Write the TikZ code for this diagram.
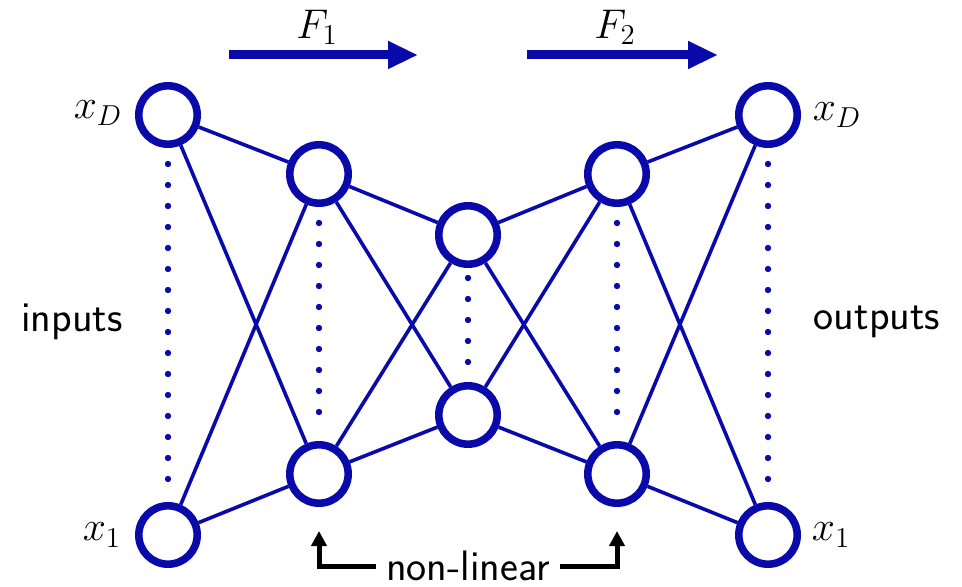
\documentclass[tikz,border=0pt]{standalone}
\usetikzlibrary{arrows.meta,calc}
\definecolor{nnblue}{RGB}{10,10,170}
\begin{document}
\begin{tikzpicture}[x=0.5pt,y=-0.5pt,
  neuron/.style={circle,draw=nnblue,line width=3.8pt,minimum size=29.2pt,inner sep=0pt,fill=white},
  conn/.style={draw=nnblue,line width=1.8pt},
  dotcol/.style={draw=nnblue,line width=3.2pt,line cap=round,dash pattern=on 0pt off 10.5pt,shorten <=8pt,shorten >=8pt},
  flow/.style={draw=nnblue,line width=4.5pt,-{Triangle[length=15pt,width=13pt]}},
  ptr/.style={draw=black,line width=2.5pt,-{Triangle[length=7.5pt,width=7.5pt]}},
  lab/.style={font=\fontsize{21}{25}\selectfont},
  slab/.style={font=\fontsize{21.3}{25}\selectfont\sffamily}]
\useasboundingbox (0,0) rectangle (962,587);
% neurons
\node[neuron] (i1) at (168,115) {};
\node[neuron] (i2) at (168,535) {};
\node[neuron] (a1) at (319,174) {};
\node[neuron] (a2) at (319,474) {};
\node[neuron] (m1) at (468,235) {};
\node[neuron] (m2) at (468,415) {};
\node[neuron] (b1) at (617,174) {};
\node[neuron] (b2) at (617,474) {};
\node[neuron] (o1) at (768,115) {};
\node[neuron] (o2) at (768,535) {};
% connections
\foreach \s/\t in {i1/a1,i1/a2,i2/a1,i2/a2,a1/m1,a1/m2,a2/m1,a2/m2,m1/b1,m1/b2,m2/b1,m2/b2,b1/o1,b1/o2,b2/o1,b2/o2}
  \draw[conn] (\s) -- (\t);
% dotted columns
\draw[dotcol] (i1) -- (i2);
\draw[dotcol] (a1) -- (a2);
\draw[dotcol,shorten <=5pt,shorten >=5pt] (m1) -- (m2);
\draw[dotcol] (b1) -- (b2);
\draw[dotcol] (o1) -- (o2);
% flow arrows
\coordinate (f1s) at (229,55);
\coordinate (f1e) at (418,55);
\coordinate (f2s) at (527,55);
\coordinate (f2e) at (718,55);
\draw[flow] (f1s) -- (f1e);
\draw[flow] (f2s) -- (f2e);
\node[lab] (F1) at (317,27) {$F_1$};
\node[lab] (F2) at (615,27) {$F_2$};
% labels
\node[lab] (xDl) at (98,113) {$x_D$};
\node[lab] (x1l) at (102,535) {$x_1$};
\node[lab] (xDr) at (837,115) {$x_D$};
\node[lab] (x1r) at (831,535) {$x_1$};
\node[slab] (inp) at (72,322) {inputs};
\node[slab] (outp) at (877,322) {outputs};
\node[slab,inner sep=5pt] (nl) at (468,566) {non-linear};
\draw[ptr,shorten >=12pt] (nl.west) -| (a2);
\draw[ptr,shorten >=12pt] (nl.east) -| (b2);
\end{tikzpicture}
\end{document}
